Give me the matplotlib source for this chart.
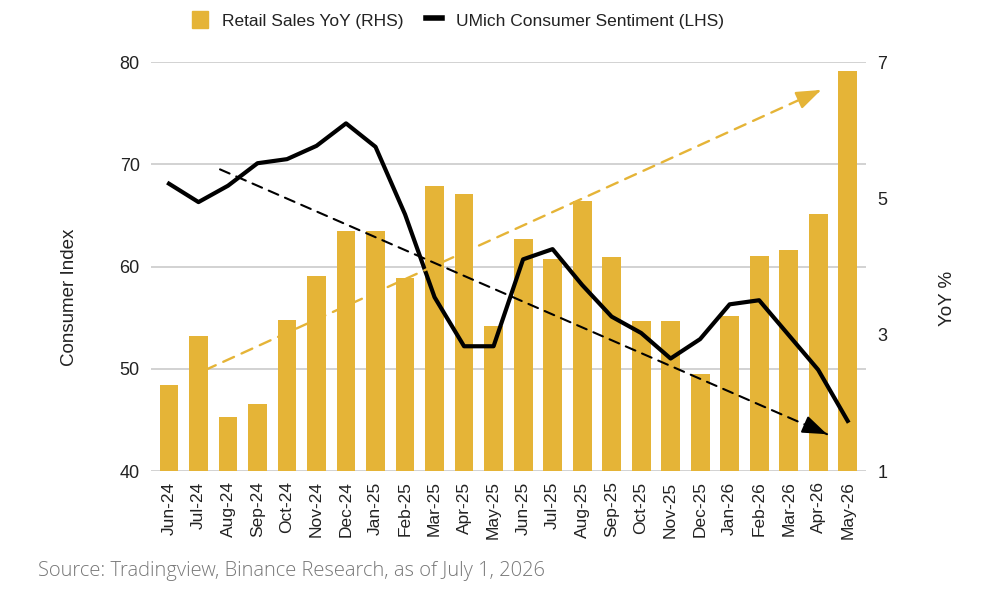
import matplotlib
matplotlib.use("Agg")
import matplotlib.pyplot as plt
import numpy as np
from matplotlib.patches import Patch
from matplotlib.lines import Line2D

plt.rcParams['font.family'] = ['Liberation Sans', 'DejaVu Sans']

months = ["Jun-24", "Jul-24", "Aug-24", "Sep-24", "Oct-24", "Nov-24", "Dec-24",
          "Jan-25", "Feb-25", "Mar-25", "Apr-25", "May-25", "Jun-25", "Jul-25",
          "Aug-25", "Sep-25", "Oct-25", "Nov-25", "Dec-25", "Jan-26", "Feb-26",
          "Mar-26", "Apr-26", "May-26"]
# retail sales yoy %, right axis
retail_yoy = [2.26, 2.98, 1.79, 1.98, 3.22, 3.86, 4.52, 4.52, 3.83, 5.18, 5.06, 3.13,
              4.40, 4.11, 4.96, 4.14, 3.20, 3.20, 2.43, 3.27, 4.16, 4.24, 4.77, 6.87]
# umich sentiment, left axis
umich = [68.1, 66.3, 67.9, 70.1, 70.5, 71.8, 74.0, 71.7, 65.1, 57.0, 52.2, 52.2,
         60.7, 61.7, 58.2, 55.1, 53.5, 51.0, 52.9, 56.3, 56.7, 53.3, 49.9, 44.9]

# trend arrows (x index, value)
retail_trend = [(1.22, 2.48), (22.1, 6.59)]
umich_trend = [(1.73, 69.5), (22.3, 43.6)]

gold = "#E5B437"
x = np.arange(len(months))

fig = plt.figure(figsize=(9.9, 6.02), dpi=100)
ax1 = fig.add_axes([0.1525, 0.2176, 0.7225, 0.6794])
ax2 = ax1.twinx()
ax2.patch.set_visible(False)

ax1.set_ylim(40, 80)
ax1.set_yticks([40, 50, 60, 70, 80])
ax1.set_xlim(-0.61, 23.63)
ax1.grid(axis='y', color='#cfcfcf', lw=1.3)
ax1.set_axisbelow(True)

ax2.set_ylim(1, 7)
ax2.set_yticks([1, 3, 5, 7])

ax2.bar(x, retail_yoy, width=0.64, color=gold, zorder=2)
ax2.plot(x, umich, color='black', lw=3, transform=ax1.transData, zorder=4)


def trend_arrow(p0, p1, color, lw, trans):
    # dashed shaft, then a solid head on the last bit
    ax2.annotate("", xy=p1, xytext=p0, xycoords=trans, textcoords=trans,
                 arrowprops=dict(arrowstyle='-', color=color, lw=lw,
                                 ls=(0, (5, 3.5)), shrinkA=0, shrinkB=0), zorder=5)
    q = (p0[0] + 0.97 * (p1[0] - p0[0]), p0[1] + 0.97 * (p1[1] - p0[1]))
    ax2.annotate("", xy=p1, xytext=q, xycoords=trans, textcoords=trans,
                 arrowprops=dict(arrowstyle='-|>,head_length=1.5,head_width=0.55',
                                 color=color, lw=lw, shrinkA=0, shrinkB=0), zorder=5)


trend_arrow(retail_trend[0], retail_trend[1], gold, 1.7, ax2.transData)
trend_arrow(umich_trend[0], umich_trend[1], 'black', 1.5, ax1.transData)

for ax in (ax1, ax2):
    for s in ax.spines.values():
        s.set_visible(False)
    ax.tick_params(length=0, labelsize=13, colors='#222222')
ax1.tick_params(axis='y', pad=8)
ax2.tick_params(axis='y', pad=8)
ax1.set_xticks(x)
ax1.set_xticklabels(months, rotation=90)
ax1.tick_params(axis='x', pad=7.5, labelsize=12.5)

fig.text(69 / 990, 1 - 297 / 602, "Consumer Index", rotation=90, fontsize=13.5,
         ha='center', va='center', color='#222222')
fig.text(948 / 990, 1 - 298 / 602, "YoY %", rotation=90, fontsize=13.5,
         ha='center', va='center', color='#222222')

handles = [Patch(color=gold), Line2D([], [], color='black', lw=4)]
fig.legend(handles, ["Retail Sales YoY (RHS)", "UMich Consumer Sentiment (LHS)"],
           loc='center', bbox_to_anchor=(458 / 990, 1 - 20 / 602), ncol=2,
           frameon=False, fontsize=12.5, handlelength=0.9, handleheight=1.1,
           columnspacing=1.3, handletextpad=0.8, labelcolor='#222222')

fig.text(38 / 990, 1 - 571 / 602, "Source: Tradingview, Binance Research, as of July 1, 2026",
         fontsize=14.5, color='#777777', family='Open Sans', weight='light',
         ha='left', va='center')

fig.savefig("out.png", dpi=100)
